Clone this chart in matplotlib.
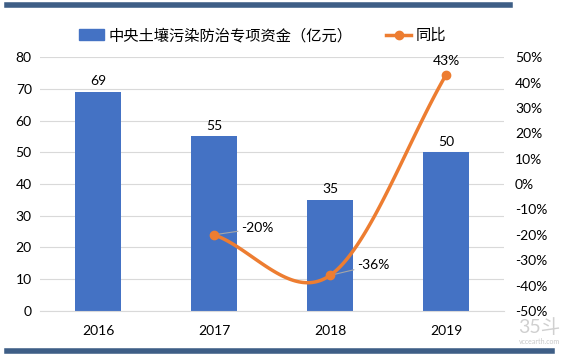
import numpy as np
import matplotlib
matplotlib.use("Agg")
import matplotlib.pyplot as plt
from matplotlib.lines import Line2D
from matplotlib.patches import Patch

plt.rcParams['font.family'] = ['Lato', 'Noto Sans CJK SC', 'DejaVu Sans']

years = ['2016', '2017', '2018', '2019']
funds = [69, 55, 35, 50]           # 亿元
yoy_years = ['2017', '2018', '2019']
yoy = [-20, -36, 43]               # %

bar_color = '#4472C4'
line_color = '#ED7D31'
frame_color = '#3E5E86'


def smooth(xs, ys, n=60):
    # Catmull-Rom curve through the points, like Excel's smoothed line
    xs = np.asarray(xs, float)
    ys = np.asarray(ys, float)
    px = np.r_[2 * xs[0] - xs[1], xs, 2 * xs[-1] - xs[-2]]
    py = np.r_[2 * ys[0] - ys[1], ys, 2 * ys[-1] - ys[-2]]
    ox, oy = [], []
    for i in range(1, len(px) - 2):
        t = np.linspace(0, 1, n)
        for arr, out in ((px, ox), (py, oy)):
            p0, p1, p2, p3 = arr[i - 1:i + 3]
            out.extend(0.5 * ((2 * p1) + (-p0 + p2) * t
                              + (2 * p0 - 5 * p1 + 4 * p2 - p3) * t ** 2
                              + (-p0 + 3 * p1 - 3 * p2 + p3) * t ** 3))
    return np.array(ox), np.array(oy)


fig = plt.figure(figsize=(5.65, 3.57), dpi=100)
ax = fig.add_axes([0.071, 0.129, 0.821, 0.711])
x = np.arange(len(years))

ax.bar(x, funds, width=0.4, color=bar_color, zorder=2)
for xi, v in zip(x, funds):
    ax.text(xi, v + 1.5, str(v), ha='center', va='bottom', fontsize=10)

ax.set_ylim(0, 80)
ax.set_yticks(range(0, 81, 10))
ax.set_xlim(-0.5, 3.5)
ax.set_xticks(x)
ax.set_xticklabels(years)
ax.grid(axis='y', color='#D9D9D9', linewidth=0.8, zorder=0)
for s in ['top', 'right', 'left']:
    ax.spines[s].set_visible(False)
ax.spines['bottom'].set_color('#D9D9D9')
ax.tick_params(axis='both', length=0, labelsize=10, pad=6)
ax.tick_params(axis='x', pad=10)

ax2 = ax.twinx()
xl = np.array([years.index(y) for y in yoy_years])
sx, sy = smooth(xl, yoy)
ax2.plot(sx, sy, color=line_color, linewidth=2.5, zorder=3)
ax2.plot(xl, yoy, 'o', color=line_color, markersize=6, zorder=4)
ax2.set_ylim(-50, 50)
ax2.set_yticks(range(-50, 51, 10))
ax2.set_yticklabels([f'{t}%' for t in range(-50, 51, 10)])
for s in ax2.spines.values():
    s.set_visible(False)
ax2.tick_params(axis='y', length=0, labelsize=10, pad=8)

ax2.annotate('-20%', xy=(xl[0], yoy[0]), xytext=(xl[0] + 0.23, yoy[0] + 2.5),
             fontsize=10, va='center',
             arrowprops=dict(arrowstyle='-', color='#A6A6A6', lw=0.8,
                             shrinkA=0, shrinkB=2))
ax2.annotate('-36%', xy=(xl[1], yoy[1]), xytext=(xl[1] + 0.23, yoy[1] + 4),
             fontsize=10, va='center',
             arrowprops=dict(arrowstyle='-', color='#A6A6A6', lw=0.8,
                             shrinkA=0, shrinkB=2))
ax2.text(xl[2], yoy[2] + 3, f'{yoy[2]}%', ha='center', va='bottom', fontsize=10)

handles = [Patch(color=bar_color),
           Line2D([], [], color=line_color, lw=2.5, marker='o', markersize=6)]
fig.legend(handles, ['中央土壤污染防治专项资金（亿元）', '同比'],
           loc='center', bbox_to_anchor=(0.465, 0.9), ncol=2, frameon=False,
           fontsize=11, handlelength=1.65, columnspacing=2.2, handletextpad=0.3)

fig.add_artist(Line2D([0.012, 0.903], [0.985, 0.985], color=frame_color, lw=4))
fig.add_artist(Line2D([0.012, 0.977], [0.017, 0.017], color=frame_color, lw=4))

fig.text(0.955, 0.058, '35斗', fontsize=14, color='#D0D0D0', ha='center', va='bottom')
fig.text(0.955, 0.052, 'vccearth.com', fontsize=5, color='#C8C8C8', ha='center', va='top')

fig.savefig('out.png', dpi=100)
